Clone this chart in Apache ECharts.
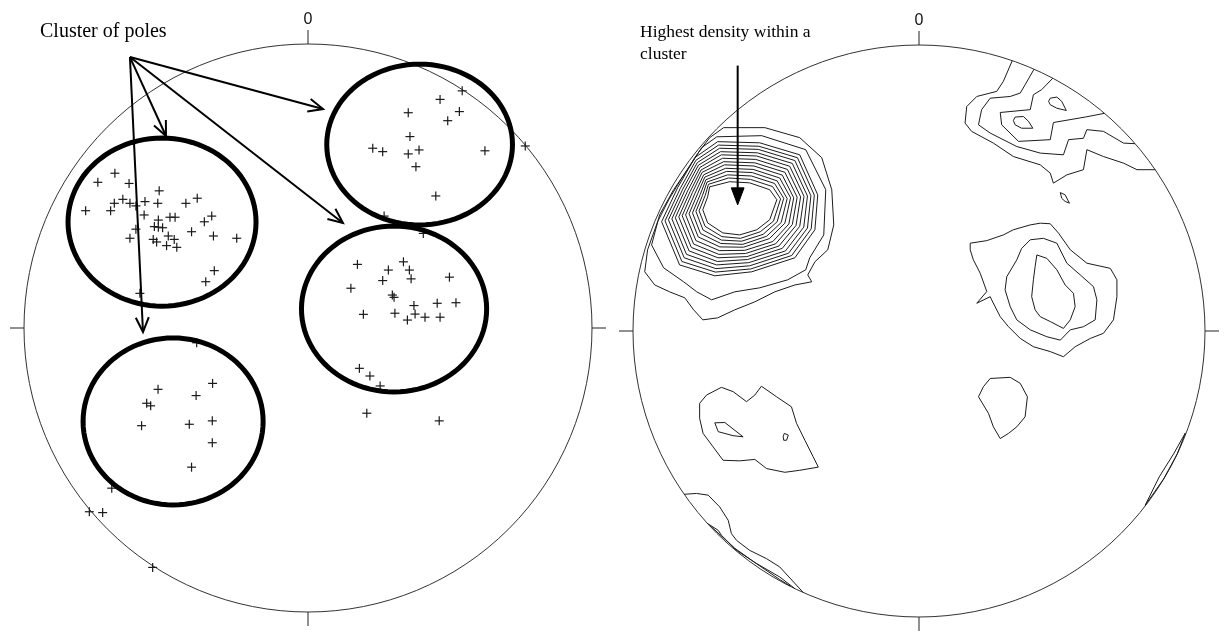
<!DOCTYPE html>
<html>
<head>
<meta charset="utf-8">
<script src="https://cdn.jsdelivr.net/npm/echarts@6/dist/echarts.min.js"></script>
<style>
  html, body { margin: 0; padding: 0; background: #fff; }
  #chart { width: 1225px; height: 634px; }
</style>
</head>
<body>
<div id="chart"></div>
<script>
// Equal-area net coordinates: x = east, y = north, primitive circle radius = 100.

// ---- Left net: poles to planes, grouped by cluster ----
const polesNW = [
  [-68.0,54.5],[-74.0,51.3],[-63.0,50.9],[-52.4,48.3],[-65.2,45.3],[-68.2,43.9],[-62.7,43.9],
  [-60.6,43.0],[-57.4,44.5],[-52.9,43.9],[-43.0,43.9],[-39.0,45.7],[-78.3,41.3],[-69.5,41.3],
  [-57.7,39.8],[-48.6,39.0],[-46.8,39.0],[-33.9,39.4],[-36.5,37.4],[-52.7,38.0],[-54.1,35.7],
  [-52.7,35.5],[-51.2,35.3],[-60.6,34.8],[-41.0,33.9],[-33.3,32.4],[-25.1,31.6],[-62.7,31.6],
  [-54.5,31.2],[-53.3,30.3],[-49.2,32.4],[-47.1,31.2],[-49.8,29.0],[-46.2,28.4],[-33.0,20.2],
  [-36.0,16.3],[-59.2,12.2]
];
const polesNE = [
  [54.3,83.5],[46.5,80.5],[35.3,75.8],[53.3,76.2],[49.2,73.0],[35.9,67.4],[22.8,63.3],[26.3,62.1],
  [35.3,61.3],[39.1,62.7],[62.3,62.4],[38.0,56.8],[76.5,64.1],[45.0,46.5],[26.8,39.4],[40.6,33.3]
];
const polesE = [
  [17.4,22.4],[33.6,23.3],[28.3,20.4],[35.7,20.4],[26.3,16.7],[36.3,17.3],[49.8,17.9],[15.1,14.0],
  [29.7,11.6],[30.3,10.8],[37.3,7.9],[45.5,8.7],[52.1,8.9],[19.5,4.8],[30.6,5.2],[37.7,4.9],
  [35.0,2.8],[41.2,3.8],[46.5,3.8],[18.1,-14.2],[21.8,-16.9],[25.4,-20.4],[20.7,-30.0],[46.2,-32.7]
];
const polesSW = [
  [-39.2,-5.2],[-33.6,-19.5],[-52.8,-21.6],[-39.4,-23.8],[-56.8,-26.5],[-55.4,-27.4],[-58.6,-34.4],
  [-41.8,-33.9],[-33.7,-32.7],[-33.7,-40.4],[-41.0,-49.0],[-69.1,-56.4],[-77.0,-64.7],[-72.3,-65.0],
  [-54.7,-84.3]
];

// Hand-drawn cluster outlines: [centre x, centre y, half-width, half-height]
const clusterOutlines = [
  [-51.4,37.3,33.1,29.6],
  [39.3,64.6,32.7,28.3],
  [30.3,6.7,32.6,29.2],
  [-47.5,-32.9,31.7,29.4]
];
// Callout arrows: [from x, from y, to x, to y]
const clusterArrows = [
  [-62.7,95.4,-58.1,-1.4],
  [-62.7,95.4,-50.0,67.6],
  [-62.7,95.4,5.3,77.1],
  [-62.7,95.4,12.3,37.0]
];

// ---- Right net: density contours ----
const denseRings = [
  [[-73.2,50.4],[-66.2,52.2],[-59.2,51.8],[-52.2,49.4],[-49.7,45.9],[-52.2,38.9],[-56.7,35.4],[-62.7,33.6],[-68.6,34.3],[-73.9,37.8],[-75.6,42.4],[-73.9,46.9]],
  [[-73.6,51.3],[-66.6,53.5],[-58.9,53.0],[-51.2,50.5],[-48.4,46.2],[-50.9,38.4],[-55.5,34.7],[-62.4,32.4],[-68.9,33.0],[-74.8,36.6],[-76.9,42.0],[-74.8,47.3]],
  [[-74.1,52.1],[-66.9,54.6],[-58.6,54.2],[-50.5,51.6],[-47.3,46.4],[-49.6,38.2],[-54.5,33.8],[-62.0,31.4],[-69.1,31.8],[-75.5,35.3],[-78.0,41.8],[-75.7,47.4]],
  [[-74.5,52.9],[-67.3,55.8],[-58.3,55.4],[-49.6,52.5],[-46.1,46.3],[-48.2,37.9],[-53.3,33.1],[-61.6,30.3],[-69.3,30.6],[-76.4,34.1],[-79.2,41.3],[-76.5,47.7]],
  [[-74.9,53.8],[-67.6,56.9],[-58.0,56.5],[-48.7,53.5],[-44.9,46.6],[-46.9,37.7],[-52.3,32.3],[-61.3,29.3],[-69.6,29.4],[-77.2,32.9],[-80.4,41.0],[-77.4,48.0]],
  [[-75.3,54.6],[-68.0,58.1],[-57.7,57.7],[-47.8,54.5],[-43.8,46.6],[-45.5,37.4],[-51.1,31.3],[-60.9,28.2],[-69.8,28.1],[-78.0,31.6],[-81.6,40.6],[-78.3,48.2]],
  [[-75.8,55.5],[-68.3,59.2],[-57.4,58.8],[-46.9,55.5],[-42.6,46.8],[-44.3,37.2],[-50.1,30.5],[-60.6,27.1],[-70.0,26.8],[-78.8,30.4],[-82.8,40.3],[-79.2,48.5]],
  [[-76.2,56.3],[-68.7,60.4],[-57.1,60.0],[-46.0,56.5],[-41.4,46.9],[-43.0,36.9],[-49.0,29.7],[-60.2,26.0],[-70.3,25.6],[-79.6,29.2],[-84.0,39.9],[-80.0,48.8]],
  [[-76.6,57.2],[-69.1,61.6],[-56.8,61.2],[-45.2,57.6],[-40.2,47.1],[-41.7,36.6],[-47.8,28.9],[-59.9,25.0],[-70.5,24.3],[-80.4,28.0],[-85.2,39.6],[-80.9,49.0]],
  [[-77.1,58.0],[-69.4,62.7],[-56.5,62.3],[-44.3,58.6],[-39.0,47.2],[-40.3,36.3],[-46.7,28.0],[-59.5,23.9],[-70.8,23.1],[-81.3,26.8],[-86.4,39.2],[-81.8,49.3]],
  [[-77.5,58.9],[-69.7,63.9],[-56.2,63.5],[-43.4,59.6],[-37.8,47.3],[-39.0,36.0],[-45.6,27.2],[-59.2,22.8],[-71.0,21.8],[-82.1,25.6],[-87.6,38.9],[-82.6,49.6]],
  [[-78.0,59.7],[-70.1,65.0],[-56.0,64.6],[-42.5,60.6],[-36.6,47.5],[-37.7,35.7],[-44.5,26.4],[-58.8,21.7],[-71.2,20.6],[-82.9,24.3],[-88.8,38.5],[-83.5,49.8]],
  [[-78.4,60.6],[-70.4,66.2],[-55.7,65.8],[-41.7,61.6],[-35.4,47.6],[-36.4,35.4],[-43.4,25.6],[-58.5,20.7],[-71.4,19.3],[-83.7,23.1],[-90.0,38.2],[-84.4,50.1]],
  [[-70.7,67.9],[-55.0,68.3],[-39.6,63.4],[-32.6,49.4],[-33.3,33.6],[-38.2,25.6],[-39.6,21.4],[-45.9,17.9],[-55.7,15.1],[-64.4,13.7],[-72.5,10.9],[-77.7,13.7],[-82.3,17.2],[-89.3,22.1],[-93.5,30.1],[-90.7,40.6],[-85.8,49.4],[-80.5,57.1],[-76.0,64.1]],
  [[-68.3,71.1],[-53.9,71.1],[-41.7,67.6],[-34.0,60.6],[-30.5,49.4],[-29.8,37.1],[-31.9,28.4],[-36.4,24.2],[-38.9,19.6],[-37.5,17.2],[-43.4,16.1],[-50.4,13.7],[-57.4,10.2],[-64.4,7.4],[-70.4,4.6],[-75.6,3.9],[-78.8,7.4],[-81.9,11.6],[-87.2,13.7],[-92.4,16.1],[-95.9,20.7],[-94.9,28.4],[-91.4,38.2],[-87.5,45.9],[-83.3,52.9],[-77.7,61.6],[-73.2,67.6]]
];
const northEastOpen = [
  [[32.6,94.5],[29.5,87.3],[27.2,83.8],[20.2,82.0],[16.7,78.5],[16.1,72.7],[18.4,69.8],[26.0,65.7],[33.0,61.0],[42.4,58.1],[45.9,55.2],[47.0,51.7],[51.7,54.6],[57.5,56.4],[58.7,63.4],[64.5,61.0],[71.5,58.7],[76.2,56.4],[82.6,56.4]],
  [[40.2,91.5],[37.1,86.1],[35.4,83.2],[31.9,82.0],[24.9,81.4],[21.9,77.4],[20.8,72.1],[24.9,69.2],[34.2,64.5],[42.4,62.2],[50.5,61.6],[52.3,66.9],[57.5,67.4],[58.7,70.4],[64.5,69.8],[71.5,65.7],[75.5,65.5]],
  [[46.8,88.4],[42.9,84.4],[40.0,82.6],[38.9,77.4],[28.4,76.4],[28.9,72.1],[34.8,66.3],[45.9,66.9],[47.0,72.9],[58.1,74.8],[64.8,76.1]]
];
const northEastClosed = [
  [[33.6,74.8],[36.5,75.0],[38.3,73.3],[39.8,70.9],[35.9,70.9],[33.6,72.1],[33.0,73.6]],
  [[45.9,81.4],[48.2,81.8],[49.9,80.3],[51.5,77.1],[48.2,77.9],[45.9,79.1],[45.3,80.3]],
  [[49.4,48.4],[51.1,47.6],[52.6,44.7],[51.1,45.3],[49.9,46.4]]
];
const eastRings = [
  [[17.9,30.7],[23.7,31.6],[29.5,33.6],[33.0,35.4],[38.9,37.1],[42.4,37.7],[45.9,37.5],[48.8,34.2],[52.9,28.4],[58.7,23.7],[66.9,21.9],[69.2,17.9],[69.2,12.0],[68.0,3.9],[64.5,-0.8],[59.9,-2.6],[54.6,-5.5],[50.5,-9.0],[45.9,-7.2],[40.0,-5.5],[35.4,-2.6],[31.3,1.5],[28.4,5.0],[25.4,10.9],[24.9,12.0],[20.2,9.7],[23.7,13.8],[21.4,20.2],[19.0,24.9],[17.9,28.4]],
  [[38.9,31.9],[43.5,32.4],[48.2,30.7],[51.7,23.7],[56.4,19.6],[61.0,15.5],[62.2,10.9],[61.6,3.9],[57.5,1.5],[52.9,0.4],[49.4,-3.2],[44.7,-2.0],[38.9,0.4],[34.2,3.9],[31.9,8.5],[30.1,14.4],[30.7,19.0],[34.2,24.9],[35.9,28.9]],
  [[41.2,26.6],[44.7,25.4],[48.2,21.4],[51.1,16.1],[54.0,13.2],[54.6,8.5],[52.9,3.9],[50.5,0.9],[45.9,3.3],[42.4,5.0],[40.6,7.4],[39.4,12.0],[40.0,17.9],[40.6,22.5]]
];
const southEastRing = [
  [[24.9,-16.6],[31.9,-16.2],[35.4,-18.3],[37.9,-23.0],[37.1,-30.0],[34.2,-33.5],[31.3,-35.8],[28.4,-37.6],[26.0,-33.5],[24.3,-28.8],[20.8,-23.0],[22.5,-19.5]]
];
const southWestClosed = [
  [[-76.7,-25.3],[-74.3,-22.4],[-69.1,-19.7],[-65.0,-21.2],[-60.3,-24.7],[-57.4,-22.4],[-55.1,-19.3],[-49.8,-23.0],[-44.6,-26.5],[-42.8,-32.3],[-39.9,-38.2],[-37.0,-44.0],[-35.2,-47.6],[-41.7,-48.7],[-46.9,-49.4],[-53.3,-48.1],[-57.4,-44.9],[-62.7,-45.4],[-68.5,-45.2],[-72.0,-40.5],[-75.5,-35.8],[-76.7,-30.5]],
  [[-71.4,-32.1],[-67.9,-32.0],[-61.5,-37.0],[-65.0,-36.6],[-70.2,-35.2]],
  [[-47.1,-35.8],[-45.7,-36.4],[-46.3,-38.2],[-47.3,-38.2],[-47.5,-37.0]]
];
const rimOpen = [
  [[-82.1,-57.1],[-77.8,-56.8],[-73.7,-57.4],[-69.7,-61.5],[-66.7,-66.2],[-65.6,-70.8],[-63.8,-73.2],[-59.2,-76.7],[-53.3,-79.6],[-48.7,-82.5],[-40.5,-91.4]],
  [[-74.1,-67.2],[-70.2,-69.7],[-69.1,-71.4],[-63.8,-76.7],[-56.8,-81.3],[-48.7,-86.0],[-43.5,-90.0]],
  [[-73.0,-68.1],[-64.5,-75.9],[-57.5,-80.9],[-48.7,-86.9],[-45.0,-89.2]]
];
const rimClosed = [
  [[93.1,-35.7],[89.0,-43.0],[84.0,-51.0],[79.1,-60.9],[85.5,-51.8],[90.3,-43.0]]
];
// Callout arrow to the density peak: [from x, from y, to x, to y]
const peakArrow = [[-63.4,92.8,-63.4,44.1]];

// ---- drawing helpers ----
function netRender(params, api) {
  const c = api.coord([0, 0]);
  const r = api.size([100, 100])[0];
  const t = 14;
  const tick = (x1, y1, x2, y2) => ({ type: 'line', shape: { x1, y1, x2, y2 }, style: { stroke: '#222', lineWidth: 1 } });
  return {
    type: 'group',
    children: [
      { type: 'circle', shape: { cx: c[0], cy: c[1], r }, style: { fill: 'none', stroke: '#333', lineWidth: 1 } },
      tick(c[0], c[1] - r, c[0], c[1] - r - t),
      tick(c[0], c[1] + r, c[0], c[1] + r + t),
      tick(c[0] - r, c[1], c[0] - r - t, c[1]),
      tick(c[0] + r, c[1], c[0] + r + t, c[1]),
      { type: 'text', x: c[0], y: c[1] - r - t - 2,
        style: { text: '0', fill: '#111', font: '16px "Liberation Sans", Arial, sans-serif', align: 'center', verticalAlign: 'bottom' } }
    ]
  };
}

function crossRender(params, api) {
  const p = api.coord([api.value(0), api.value(1)]);
  const h = 4.5;
  const st = { stroke: '#1a1a1a', lineWidth: 1.2 };
  return {
    type: 'group',
    children: [
      { type: 'line', shape: { x1: p[0] - h, y1: p[1], x2: p[0] + h, y2: p[1] }, style: st },
      { type: 'line', shape: { x1: p[0], y1: p[1] - h, x2: p[0], y2: p[1] + h }, style: st }
    ]
  };
}

function outlineRender(params, api) {
  const c = api.coord([api.value(0), api.value(1)]);
  const s = api.size([api.value(2), api.value(3)]);
  const pts = [];
  for (let i = 0; i < 96; i++) {
    const a = (i / 96) * Math.PI * 2;
    pts.push([c[0] + s[0] * Math.cos(a), c[1] + s[1] * Math.sin(a)]);
  }
  return { type: 'polygon', shape: { points: pts }, style: { fill: 'none', stroke: '#000', lineWidth: 5 } };
}

function arrowRender(params, api) {
  const a = api.coord([api.value(0), api.value(1)]);
  const b = api.coord([api.value(2), api.value(3)]);
  const ang = Math.atan2(b[1] - a[1], b[0] - a[0]);
  const L = 16, w = 0.42;
  const h1 = [b[0] - L * Math.cos(ang - w), b[1] - L * Math.sin(ang - w)];
  const h2 = [b[0] - L * Math.cos(ang + w), b[1] - L * Math.sin(ang + w)];
  return {
    type: 'group',
    children: [
      { type: 'line', shape: { x1: a[0], y1: a[1], x2: b[0], y2: b[1] }, style: { stroke: '#000', lineWidth: 2 } },
      { type: 'polyline', shape: { points: [h1, b, h2] }, style: { stroke: '#000', lineWidth: 2, fill: 'none' } }
    ]
  };
}

function solidArrowRender(params, api) {
  const a = api.coord([api.value(0), api.value(1)]);
  const b = api.coord([api.value(2), api.value(3)]);
  const ang = Math.atan2(b[1] - a[1], b[0] - a[0]);
  const L = 17, w = 0.36;
  const base = [b[0] - L * Math.cos(ang), b[1] - L * Math.sin(ang)];
  const h1 = [b[0] - L * Math.cos(ang - w) / Math.cos(w), b[1] - L * Math.sin(ang - w) / Math.cos(w)];
  const h2 = [b[0] - L * Math.cos(ang + w) / Math.cos(w), b[1] - L * Math.sin(ang + w) / Math.cos(w)];
  return {
    type: 'group',
    children: [
      { type: 'line', shape: { x1: a[0], y1: a[1], x2: base[0], y2: base[1] }, style: { stroke: '#000', lineWidth: 2 } },
      { type: 'polygon', shape: { points: [h1, b, h2] }, style: { fill: '#000', stroke: '#000', lineWidth: 1 } }
    ]
  };
}

const contours = []
  .concat(denseRings.map(p => ({ p, closed: true })))
  .concat(northEastOpen.map(p => ({ p, closed: false })))
  .concat(northEastClosed.map(p => ({ p, closed: true })))
  .concat(eastRings.map(p => ({ p, closed: true })))
  .concat(southEastRing.map(p => ({ p, closed: true })))
  .concat(southWestClosed.map(p => ({ p, closed: true })))
  .concat(rimOpen.map(p => ({ p, closed: false })))
  .concat(rimClosed.map(p => ({ p, closed: true })));

function contourRender(params, api) {
  const c = contours[params.dataIndex];
  const pts = c.p.map(q => api.coord(q));
  return {
    type: c.closed ? 'polygon' : 'polyline',
    shape: { points: pts },
    style: { fill: 'none', stroke: '#1c1c1c', lineWidth: 1 }
  };
}

const chart = echarts.init(document.getElementById('chart'), null, { renderer: 'canvas' });
const axisBase = { type: 'value', min: -100, max: 100, show: false };
const custom = (grid, renderItem, data, z) => ({
  type: 'custom', xAxisIndex: grid, yAxisIndex: grid, renderItem, data, z,
  silent: true, animation: false
});
const serif = '"Liberation Serif", "Times New Roman", serif';

chart.setOption({
  backgroundColor: '#ffffff',
  animation: false,
  grid: [
    { left: 24, top: 44, width: 568, height: 568 },
    { left: 633, top: 45, width: 572, height: 572 }
  ],
  xAxis: [Object.assign({ gridIndex: 0 }, axisBase), Object.assign({ gridIndex: 1 }, axisBase)],
  yAxis: [Object.assign({ gridIndex: 0 }, axisBase), Object.assign({ gridIndex: 1 }, axisBase)],
  graphic: [
    { type: 'text', left: 40, top: 22, style: { text: 'Cluster of poles', fill: '#000', font: '20px ' + serif } },
    { type: 'text', left: 640, top: 23, style: { text: 'Highest density within a', fill: '#000', font: '17.5px ' + serif } },
    { type: 'text', left: 640, top: 45, style: { text: 'cluster', fill: '#000', font: '17.5px ' + serif } }
  ],
  series: [
    custom(0, netRender, [[0, 0]], 1),
    custom(1, netRender, [[0, 0]], 1),
    custom(1, contourRender, contours.map((c, i) => [i]), 2),
    custom(0, crossRender, polesNW, 3),
    custom(0, crossRender, polesNE, 3),
    custom(0, crossRender, polesE, 3),
    custom(0, crossRender, polesSW, 3),
    custom(0, outlineRender, clusterOutlines, 4),
    custom(0, arrowRender, clusterArrows, 5),
    custom(1, solidArrowRender, peakArrow, 5)
  ]
});
</script>
</body>
</html>
